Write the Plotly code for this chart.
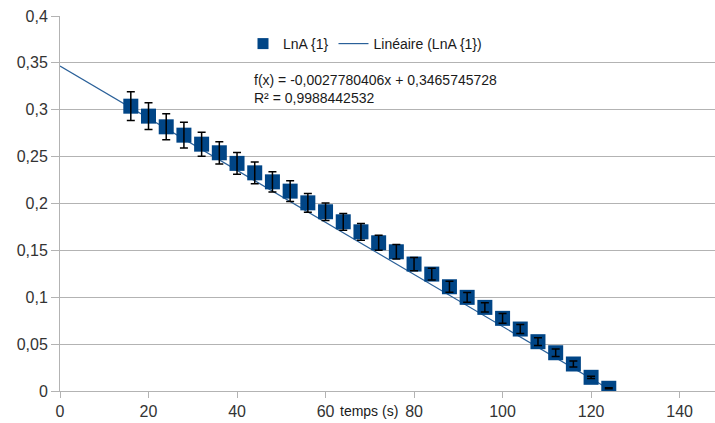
import plotly.graph_objects as go

# Data
temps = [16, 20, 24, 28, 32, 36, 40, 44, 48, 52, 56, 60, 64, 68, 72, 76, 80,
         84, 88, 92, 96, 100, 104, 108, 112, 116, 120, 124]
lnA = [0.3038, 0.2932, 0.2818, 0.2729, 0.2633, 0.2541, 0.2428, 0.2327, 0.2231,
       0.2132, 0.2007, 0.1912, 0.1805, 0.1698, 0.1581, 0.1485, 0.1354, 0.1247,
       0.1112, 0.0999, 0.0892, 0.0775, 0.0661, 0.0526, 0.0408, 0.0288, 0.0146,
       0.0029]
lnA_err = [0.0153, 0.0142, 0.0139, 0.0137, 0.0128, 0.0119, 0.0115, 0.0115, 0.0107,
           0.0110, 0.0101, 0.0093, 0.0089, 0.0089, 0.0080, 0.0077, 0.0070, 0.0062,
           0.0059, 0.0053, 0.0050, 0.0053, 0.0048, 0.0041, 0.0039, 0.0032, 0.0012,
           0.0006]

trend_slope = -0.0027780406
trend_intercept = 0.3465745728
trend_r2_text = "0,9988442532"
trend_x = [0, 124]

x_tick_vals = [0, 20, 40, 60, 80, 100, 120, 140]
x_tick_labels = ["0", "20", "40", "60", "80", "100", "120", "140"]
y_tick_vals = [0, 0.05, 0.1, 0.15, 0.2, 0.25, 0.3, 0.35, 0.4]
y_tick_labels = ["0", "0,05", "0,1", "0,15", "0,2", "0,25", "0,3", "0,35", "0,4"]

blue = "#004586"
grid = "#b3b3b3"
font_family = "Liberation Sans, Arial, sans-serif"

fig = go.Figure()

# trendline (behind markers)
fig.add_trace(go.Scatter(
    x=trend_x, y=[trend_intercept + trend_slope * t for t in trend_x],
    mode="lines", line=dict(color="#2a6099", width=1.2),
    name="Linéaire (LnA {1})", showlegend=True, legendrank=2,
))
# markers
fig.add_trace(go.Scatter(
    x=temps, y=lnA, mode="markers",
    marker=dict(symbol="square", size=15, color=blue, line=dict(width=0)),
    showlegend=False, hoverinfo="skip",
))
# error bars on top of markers
fig.add_trace(go.Scatter(
    x=temps, y=lnA, mode="markers",
    marker=dict(size=1, color="rgba(0,0,0,0)"),
    error_y=dict(type="data", array=lnA_err, visible=True,
                 color="black", thickness=1.5, width=4),
    showlegend=False, hoverinfo="skip",
))
# legend entry for the series
fig.add_trace(go.Scatter(
    x=[None], y=[None], mode="markers",
    marker=dict(symbol="square", size=11, color=blue),
    name="LnA {1}", showlegend=True, legendrank=1,
))

fig.add_annotation(
    x=(252 - 60) / 655, y=(391 - 70) / 375, xref="paper", yref="paper",
    xanchor="left", yanchor="top", align="left", showarrow=False,
    text="f(x) = -0,0027780406x + 0,3465745728<br>R² = " + trend_r2_text,
    font=dict(family=font_family, size=14, color="#1a1a1a"),
)
fig.add_annotation(
    x=(369 - 60) / 655, y=(391 - 411) / 375, xref="paper", yref="paper",
    xanchor="center", yanchor="middle", showarrow=False,
    text="temps (s)", font=dict(family=font_family, size=14, color="#1a1a1a"),
)

fig.update_layout(
    width=715, height=423,
    margin=dict(l=60, r=0, t=16, b=32),
    paper_bgcolor="white", plot_bgcolor="white",
    font=dict(family=font_family, size=16, color="#333333"),
    legend=dict(orientation="h", x=(243 - 60) / 655, y=(391 - 28) / 375,
                xanchor="left", yanchor="top", bgcolor="rgba(0,0,0,0)",
                font=dict(family=font_family, size=14, color="#1a1a1a"),
                traceorder="normal"),
    xaxis=dict(range=[0, 148], tickvals=x_tick_vals, ticktext=x_tick_labels,
               showgrid=False, zeroline=False, showline=True, linecolor=grid,
               linewidth=1, ticks="outside", ticklen=6, tickcolor=grid),
    yaxis=dict(range=[0, 0.4], tickvals=y_tick_vals, ticktext=y_tick_labels,
               showgrid=True, gridcolor=grid, gridwidth=1, zeroline=False,
               showline=True, linecolor=grid, linewidth=1,
               ticks="outside", ticklen=8, tickcolor=grid),
)

fig.write_html(
    "out.html",
    config={"displayModeBar": False},
    post_script="document.body.style.margin='0px';document.body.style.overflow='hidden';",
)
